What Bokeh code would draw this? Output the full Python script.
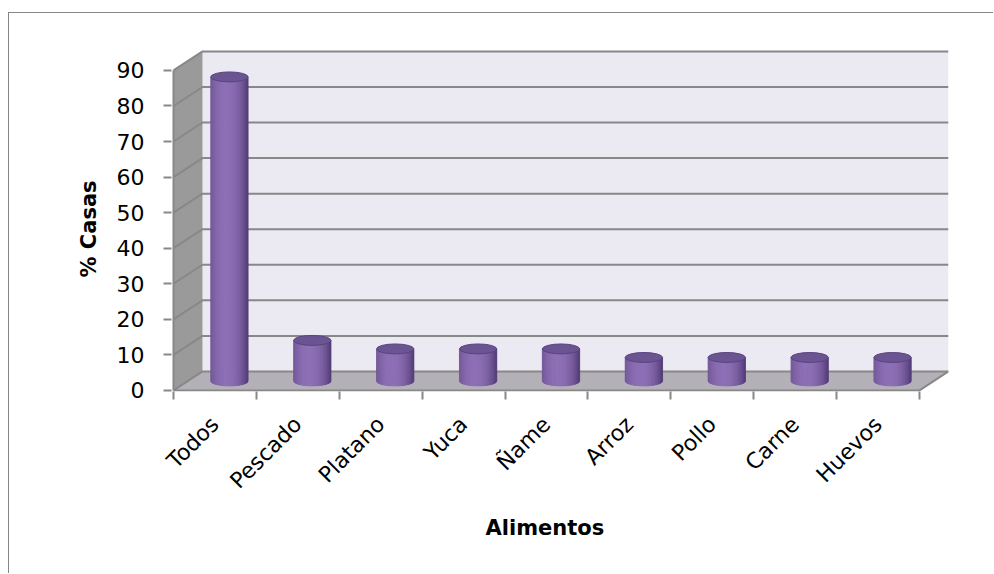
import math
import numpy as np
from bokeh.plotting import figure
from bokeh.models import FixedTicker, ColumnDataSource, Range1d, CustomJSTickFormatter, Title
from bokeh.embed import file_html
from bokeh.resources import INLINE

# Food items and share of households (%)
categories = ["Todos", "Pescado", "Platano", "Yuca", "Ñame", "Arroz", "Pollo", "Carne", "Huevos"]
pct_casas = [85.5, 11.4, 9.0, 9.0, 9.0, 6.6, 6.6, 6.6, 6.6]
y_ticks = [0, 10, 20, 30, 40, 50, 60, 70, 80, 90]
y_title = "% Casas"
x_title = "Alimentos"

FONT = "DejaVu Sans"
GRID = "#888888"

n = len(categories)
YMAX = y_ticks[-1]
DX, DY = 0.35, 5.34          # oblique depth of the back wall (data units)
CYL_W, CYL_EH = 0.45, 2.8    # cylinder width and ellipse height (data units)

p = figure(width=985, height=561,
           x_range=Range1d(-0.024, n + DX), y_range=Range1d(-0.3, 95.88),
           output_backend="svg", toolbar_location=None,
           min_border_left=162, min_border_right=46,
           min_border_top=36, min_border_bottom=183)
p.margin = (12, 0, 0, 8)
p.styles = {"border-left": "1px solid #868686", "border-top": "1px solid #868686"}
p.outline_line_color = None
p.background_fill_color = "white"
p.border_fill_color = "white"
p.xgrid.visible = False
p.ygrid.visible = False

# --- walls and floor ---
p.patch([DX, n + DX, n + DX, DX], [DY, DY, YMAX + DY, YMAX + DY],
        fill_color="#ebe9f1", line_color=None)
p.patch([0, DX, DX, 0], [0, DY, YMAX + DY, YMAX],
        fill_color="#9a9a9a", line_color=None)
p.patch([0, n, n + DX, DX], [0, 0, DY, DY],
        fill_color="#b4b0b7", line_color=None)

# gridlines: diagonal on the side wall, horizontal on the back wall
p.multi_line(xs=[[0, DX, n + DX] for t in y_ticks],
             ys=[[t, t + DY, t + DY] for t in y_ticks],
             line_color=GRID, line_width=2)
# floor front / right edges and side-wall front edge
p.multi_line(xs=[[0, n, n + DX], [0, 0]],
             ys=[[0, 0, DY], [0, YMAX]],
             line_color=GRID, line_width=2)

# --- cylinders (shaded with thin vertical strips) ---
dark = np.array([80, 58, 116])
light = np.array([142, 112, 182])
NS = 60
edges = np.linspace(-1, 1, NS + 1)
base = DY / 2

xs, ys, cols = [], [], []
for i, v in enumerate(pct_casas):
    cx = i + 0.5 + DX / 2
    top = base + v
    for k in range(NS):
        u0, u1 = edges[k], edges[k + 1]
        um = 0.5 * (u0 + u1)
        f = max(0.0, 1 - ((um + 0.15) / 1.15) ** 2) ** 0.8
        c = dark + (light - dark) * f
        col = "#%02x%02x%02x" % tuple(int(round(t)) for t in c)
        x0 = cx + u0 * CYL_W / 2
        x1 = cx + u1 * CYL_W / 2
        y0 = base - CYL_EH / 2 * math.sqrt(max(0.0, 1 - u0 ** 2))
        y1 = base - CYL_EH / 2 * math.sqrt(max(0.0, 1 - u1 ** 2))
        xs.append([x0, x1, x1, x0])
        ys.append([y0, y1, top, top])
        cols.append(col)

src = ColumnDataSource(dict(xs=xs, ys=ys, color=cols))
p.patches("xs", "ys", source=src, fill_color="color", line_color="color", line_width=0.8)

tops = ColumnDataSource(dict(
    x=[i + 0.5 + DX / 2 for i in range(n)],
    y=[base + v for v in pct_casas],
))
p.ellipse(x="x", y="y", width=CYL_W, height=CYL_EH, source=tops,
          fill_color="#6b5492", line_color="#594380", line_width=1)

# --- axes ---
yax = p.yaxis[0]
yax.ticker = FixedTicker(ticks=y_ticks)
yax.axis_line_color = None
yax.major_tick_line_color = GRID
yax.major_tick_line_width = 2
yax.major_tick_out = 8
yax.major_tick_in = 0
yax.minor_tick_line_color = None
yax.major_label_text_font = FONT
yax.major_label_text_font_size = "22px"
yax.major_label_text_color = "black"
yax.major_label_standoff = 19

xax = p.xaxis[0]
xax.ticker = FixedTicker(ticks=[i + 0.5 for i in range(n)], minor_ticks=list(range(n + 1)))
xax.formatter = CustomJSTickFormatter(args=dict(labels=categories),
                                      code="return labels[Math.floor(tick)];")
xax.axis_line_color = None
xax.major_tick_line_color = None
xax.major_tick_out = 8
xax.major_tick_in = 0
xax.minor_tick_line_color = GRID
xax.minor_tick_line_width = 2
xax.minor_tick_out = 8
xax.minor_tick_in = 0
xax.major_label_orientation = math.pi / 4
xax.major_label_text_font = FONT
xax.major_label_text_font_size = "22px"
xax.major_label_text_color = "black"
xax.major_label_standoff = 21

# --- axis titles ---
p.add_layout(Title(text=y_title, align="left", offset=114, standoff=26,
                   text_font=FONT, text_font_style="bold", text_font_size="21px",
                   text_color="black"), "left")
p.add_layout(Title(text=x_title, align="left", offset=314, standoff=16,
                   text_font=FONT, text_font_style="bold", text_font_size="21px",
                   text_color="black"), "below")

open("out.html", "w").write(file_html(p, INLINE))
